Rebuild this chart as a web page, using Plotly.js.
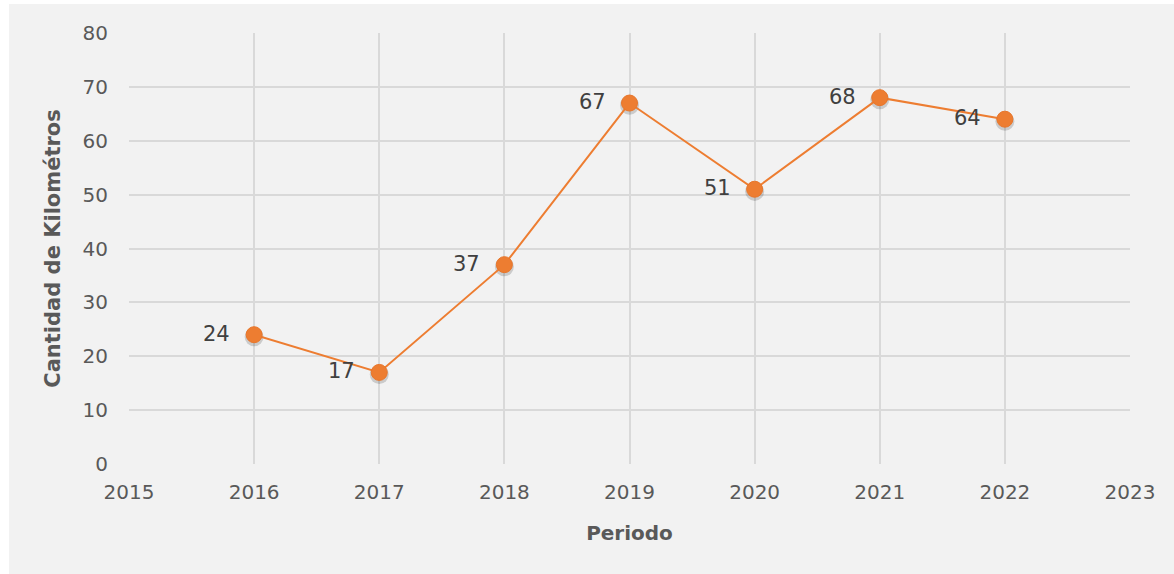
<!DOCTYPE html>
<html>
<head>
<meta charset="utf-8">
<script src="https://cdn.plot.ly/plotly-3.0.1.min.js"></script>
<style>html,body{margin:0;padding:0;background:#fff;}#chart{width:1174px;height:574px;}</style>
</head>
<body>
<div id="chart"></div>
<script>
const years = [2016, 2017, 2018, 2019, 2020, 2021, 2022];
const kilometros = [24, 17, 37, 67, 51, 68, 64];
const labels = ["24", "17", "37", "67", "51", "68", "64"];
const xTicks = [2015, 2016, 2017, 2018, 2019, 2020, 2021, 2022, 2023];
const yTicks = [0, 10, 20, 30, 40, 50, 60, 70, 80];

const FONT = "'DejaVu Sans', sans-serif";
const W = 1174, H = 574;
const L = 129, R = 44, T = 33, B = 110;
const pw = W - L - R, ph = H - T - B;
function px(x){ return (x - L) / pw; }
function py(y){ return (H - B - y) / ph; }

const shadow = {
  x: years, y: kilometros.map(v => v - 0.4), mode: "markers", type: "scatter",
  marker: {size: 19, color: "rgba(0,0,0,0.16)"}, hoverinfo: "skip", showlegend: false,
  cliponaxis: false
};
const trace = {
  x: years, y: kilometros, mode: "lines+markers", type: "scatter",
  line: {color: "#ED7D31", width: 2},
  marker: {size: 16, color: "#ED7D31", line: {color: "#E8762B", width: 1}},
  showlegend: false, cliponaxis: false
};

const annotations = years.map((yr, i) => ({
  x: yr, y: kilometros[i], xref: "x", yref: "y", text: labels[i],
  showarrow: false, xanchor: "right", yanchor: "middle", xshift: -22, yshift: 1,
  font: {family: FONT, size: 21, color: "#404040"}
}));

const layout = {
  width: W, height: H,
  margin: {l: L, r: R, t: T, b: B},
  paper_bgcolor: "#ffffff",
  plot_bgcolor: "rgba(0,0,0,0)",
  font: {family: FONT, color: "#595959"},
  annotations: annotations,
  shapes: [{
    type: "rect", xref: "paper", yref: "paper", layer: "below",
    x0: px(9), x1: px(1180), y0: py(580), y1: py(4),
    fillcolor: "#f2f2f2", line: {width: 0}
  }],
  xaxis: {
    range: [2015, 2023], tickmode: "array", tickvals: xTicks,
    ticktext: xTicks.map(String),
    showgrid: true, gridcolor: "#d9d9d9", gridwidth: 2,
    zeroline: false, showline: false, ticks: "", ticklabelstandoff: 14,
    tickfont: {family: FONT, size: 20, color: "#595959"},
    title: {text: "<b>Periodo</b>", font: {family: FONT, size: 20, color: "#595959"}, standoff: 22}
  },
  yaxis: {
    range: [0, 80], tickmode: "array", tickvals: yTicks,
    showgrid: true, gridcolor: "#d9d9d9", gridwidth: 2,
    zeroline: false, showline: false, ticks: "", ticklabelstandoff: 20,
    tickfont: {family: FONT, size: 20, color: "#595959"},
    title: {text: "<b>Cantidad de Kilométros</b>", font: {family: FONT, size: 21, color: "#595959"}, standoff: 16}
  }
};

Plotly.newPlot("chart", [shadow, trace], layout, {displayModeBar: false, staticPlot: true});
</script>
</body>
</html>
